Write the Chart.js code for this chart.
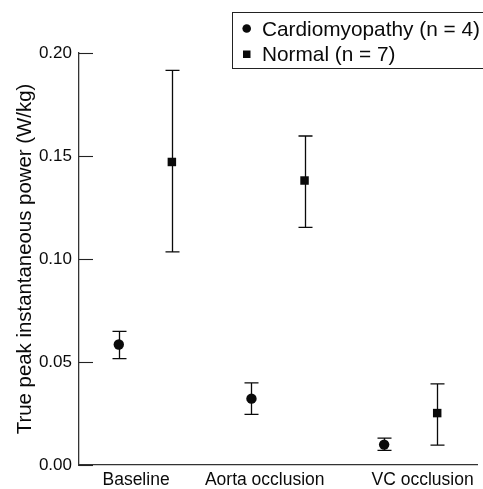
<!DOCTYPE html>
<html>
<head>
<meta charset="utf-8">
<script src="https://cdn.jsdelivr.net/npm/chart.js@4/dist/chart.umd.min.js"></script>
<style>
    html, body { margin: 0; padding: 0; background: #fff; }
    #wrap { width: 483px; height: 489px; }
</style>
</head>
<body>
<div id="wrap"><canvas id="powerChart"></canvas></div>
<script>
// Dati
const groupLabels = ['Baseline', 'Aorta occlusion', 'VC occlusion'];
const groupIndex = [0, 1, 2];
const labelPositions = [-0.07, 0.9, 2.09];
const seriesOffset = 0.2;

const cardioMean = [0.0585, 0.0322, 0.0099];
const cardioLow = [0.0516, 0.0246, 0.0071];
const cardioHigh = [0.0649, 0.0399, 0.0130];

const normalMean = [0.1471, 0.1381, 0.0252];
const normalLow = [0.1035, 0.1154, 0.0096];
const normalHigh = [0.1916, 0.1597, 0.0394];

const yTicks = [0, 0.05, 0.10, 0.15, 0.20];

const FONT = 'Liberation Sans';
const INK = '#0a0a0a';

/**
 * Costruisce i punti di una serie a partire dagli array
 */
function buildPoints(means, lows, highs, offset) {
    return groupIndex.map((g, i) => ({ x: g + offset, y: means[i], low: lows[i], high: highs[i] }));
}

// Plugin: barre di errore, tacche interne dell'asse y e legenda
const extrasPlugin = {
    id: 'extras',
    beforeDatasetsDraw(chart) {
        const ctx = chart.ctx;
        const xs = chart.scales.x;
        const ys = chart.scales.y;
        ctx.save();
        ctx.strokeStyle = INK;
        ctx.lineWidth = 1.3;
        chart.data.datasets.forEach(ds => {
            ds.data.forEach(p => {
                const px = Math.round(xs.getPixelForValue(p.x)) + 0.5;
                const top = ys.getPixelForValue(p.high);
                const bot = ys.getPixelForValue(p.low);
                ctx.beginPath();
                ctx.moveTo(px, top);
                ctx.lineTo(px, bot);
                ctx.moveTo(px - 7, top);
                ctx.lineTo(px + 7, top);
                ctx.moveTo(px - 7, bot);
                ctx.lineTo(px + 7, bot);
                ctx.stroke();
            });
        });
        // tacche verso l'interno
        ctx.strokeStyle = '#222';
        ctx.lineWidth = 1.1;
        yTicks.forEach(v => {
            const py = Math.round(ys.getPixelForValue(v)) + 0.5;
            ctx.beginPath();
            ctx.moveTo(xs.left, py);
            ctx.lineTo(xs.left + 14, py);
            ctx.stroke();
        });
        ctx.restore();
    },
    afterDraw(chart) {
        const ctx = chart.ctx;
        ctx.save();
        ctx.fillStyle = '#fff';
        ctx.fillRect(232.5, 12.5, chart.width, 56);
        ctx.strokeStyle = '#222';
        ctx.lineWidth = 1;
        ctx.strokeRect(232.5, 12.5, chart.width, 56);
        ctx.font = '20.8px "' + FONT + '"';
        ctx.textBaseline = 'middle';
        ctx.fillStyle = INK;
        chart.data.datasets.forEach((ds, i) => {
            const cy = 30 + i * 25;
            if (ds.pointStyle === 'circle') {
                ctx.beginPath();
                ctx.arc(246.7, cy - 1.5, 4.3, 0, Math.PI * 2);
                ctx.fill();
            } else {
                ctx.fillRect(243, cy - 4.5, 7.5, 7.5);
            }
            ctx.fillText(ds.label, 262, cy + 0.5);
        });
        ctx.restore();
    }
};

const ctx = document.getElementById('powerChart').getContext('2d');
new Chart(ctx, {
    type: 'scatter',
    data: {
        datasets: [{
            label: 'Cardiomyopathy (n = 4)',
            data: buildPoints(cardioMean, cardioLow, cardioHigh, -seriesOffset),
            pointStyle: 'circle',
            pointRadius: 5.2,
            backgroundColor: INK,
            borderColor: INK,
            borderWidth: 0
        }, {
            label: 'Normal (n = 7)',
            data: buildPoints(normalMean, normalLow, normalHigh, seriesOffset),
            pointStyle: 'rect',
            pointRadius: 6,
            backgroundColor: INK,
            borderColor: INK,
            borderWidth: 0
        }]
    },
    options: {
        responsive: true,
        maintainAspectRatio: false,
        animation: false,
        layout: { padding: { top: 53, right: 0, left: 0, bottom: 0 } },
        plugins: {
            legend: { display: false },
            tooltip: { enabled: false }
        },
        scales: {
            x: {
                type: 'linear',
                min: -0.5,
                max: 2.5,
                afterFit: scale => { scale.height = 24; },
                afterBuildTicks: scale => {
                    scale.ticks = labelPositions.map(v => ({ value: v }));
                },
                ticks: {
                    padding: 5,
                    color: INK,
                    font: { family: FONT, size: 17.5 },
                    callback: (value, index) => groupLabels[index]
                },
                grid: { display: false, drawTicks: false },
                border: { display: true, color: '#333', width: 1.3 }
            },
            y: {
                min: 0,
                max: 0.2,
                afterFit: scale => { scale.width = 79; },
                afterBuildTicks: scale => {
                    scale.ticks = yTicks.map(v => ({ value: v }));
                },
                ticks: {
                    padding: 7,
                    color: INK,
                    font: { family: FONT, size: 17 },
                    callback: value => value.toFixed(2)
                },
                grid: { display: false, drawTicks: false },
                border: { display: true, color: '#333', width: 1.3 },
                title: {
                    display: true,
                    text: 'True peak instantaneous power (W/kg)',
                    color: INK,
                    font: { family: FONT, size: 20.4 },
                    padding: { top: 13, bottom: 0 }
                }
            }
        }
    },
    plugins: [extrasPlugin]
});
</script>
</body>
</html>
